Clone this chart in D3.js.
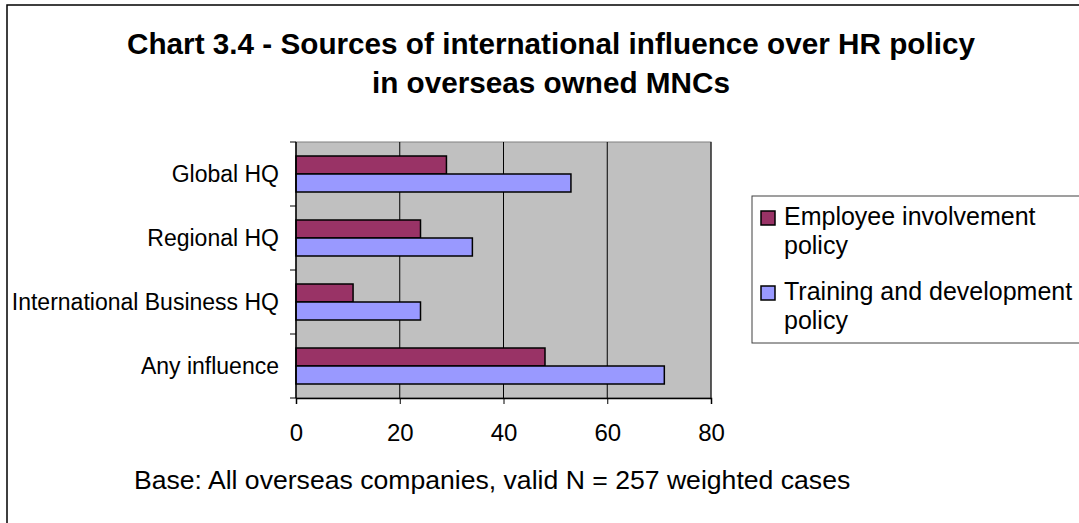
<!DOCTYPE html>
<html>
<head>
<meta charset="utf-8">
<script src="https://cdn.jsdelivr.net/npm/d3@7"></script>
<style>
  html, body { margin: 0; padding: 0; background: #fff; }
  svg { display: block; font-family: "Liberation Sans", Arial, sans-serif; }
</style>
</head>
<body>
<svg id="chart" width="1079" height="523"></svg>
<script>
const categories = ["Global HQ", "Regional HQ", "International Business HQ", "Any influence"];
const seriesNames = ["Employee involvement policy", "Training and development policy"];
const employeeInvolvement = [29, 24, 11, 48];
const trainingDevelopment = [53, 34, 24, 71];
const xTicks = [0, 20, 40, 60, 80];
const titleLines = ["Chart 3.4 - Sources of international influence over HR policy", "in overseas owned MNCs"];
const legendLines = [["Employee involvement", "policy"], ["Training and development", "policy"]];
const footnote = "Base: All overseas companies, valid N = 257 weighted cases";
const colors = ["#993366", "#9999FF"];

const svg = d3.select("#chart");

// outer chart border (extends beyond the visible frame on right/bottom)
svg.append("rect").attr("x", 7).attr("y", 5).attr("width", 1120).attr("height", 560)
  .attr("fill", "#fff").attr("stroke", "#000").attr("stroke-width", 1.5);

// title
svg.append("g").selectAll("text").data(titleLines).join("text")
  .attr("x", 551).attr("y", (d, i) => 54 + i * 39)
  .attr("text-anchor", "middle").attr("font-weight", "bold").attr("font-size", 29.7)
  .attr("fill", "#000").text(d => d);

const plot = {left: 296, right: 711, top: 142, bottom: 398};
const x = d3.scaleLinear().domain([0, 80]).range([plot.left, plot.right]);
const y = d3.scaleBand().domain(categories).range([plot.top, plot.bottom]);
const yInner = d3.scaleBand().domain(seriesNames).range([14, y.bandwidth() - 14]);

// plot background
svg.append("rect").attr("x", plot.left).attr("y", plot.top)
  .attr("width", plot.right - plot.left).attr("height", plot.bottom - plot.top)
  .attr("fill", "#C0C0C0").attr("stroke", "#808080").attr("stroke-width", 1);

// gridlines
svg.append("g").selectAll("line").data(xTicks.slice(1)).join("line")
  .attr("x1", d => x(d)).attr("x2", d => x(d))
  .attr("y1", plot.top).attr("y2", plot.bottom)
  .attr("stroke", "#000").attr("stroke-width", 1);

// bars
const data = categories.map((c, i) => ({cat: c, values: [employeeInvolvement[i], trainingDevelopment[i]]}));
const groups = svg.append("g").selectAll("g").data(data).join("g")
  .attr("transform", d => `translate(0,${y(d.cat)})`);
groups.selectAll("rect").data(d => d.values.map((v, j) => ({v, s: seriesNames[j], j}))).join("rect")
  .attr("x", x(0)).attr("y", d => yInner(d.s))
  .attr("width", d => x(d.v) - x(0)).attr("height", yInner.bandwidth())
  .attr("fill", d => colors[d.j]).attr("stroke", "#000").attr("stroke-width", 1.5);

// y axis
const yAxis = svg.append("g");
yAxis.append("line").attr("x1", plot.left).attr("x2", plot.left)
  .attr("y1", plot.top).attr("y2", plot.bottom).attr("stroke", "#000").attr("stroke-width", 1.5);
const yTickPos = categories.map(c => y(c)).concat([plot.bottom]);
yAxis.selectAll("line.tick").data(yTickPos).join("line").attr("class", "tick")
  .attr("x1", plot.left - 6).attr("x2", plot.left).attr("y1", d => d).attr("y2", d => d)
  .attr("stroke", "#000").attr("stroke-width", 1);
yAxis.selectAll("text").data(categories).join("text")
  .attr("x", 279).attr("y", d => y(d) + y.bandwidth() / 2)
  .attr("dy", "0.35em").attr("text-anchor", "end").attr("font-size", 23).attr("fill", "#000")
  .text(d => d);

// x axis
const xAxisG = svg.append("g").attr("transform", `translate(0,${plot.bottom})`)
  .call(d3.axisBottom(x).tickValues(xTicks).tickSize(6).tickPadding(20).tickFormat(d3.format("d")));
xAxisG.select(".domain").attr("stroke", "#000").attr("stroke-width", 1.5);
xAxisG.selectAll(".tick line").attr("stroke", "#000");
xAxisG.selectAll(".tick text").attr("font-size", 24).attr("font-family", "Liberation Sans, Arial, sans-serif").attr("fill", "#000");

// footnote
svg.append("text").attr("x", 134).attr("y", 489).attr("font-size", 26.6).attr("fill", "#000").text(footnote);

// legend
const legend = svg.append("g");
legend.append("rect").attr("x", 752).attr("y", 196).attr("width", 400).attr("height", 147)
  .attr("fill", "#fff").attr("stroke", "#404040").attr("stroke-width", 1);
const items = legend.selectAll("g.item").data(seriesNames).join("g").attr("class", "item")
  .attr("transform", (d, i) => `translate(0,${i * 75})`);
items.append("rect").attr("x", 761).attr("y", 211).attr("width", 14).attr("height", 14)
  .attr("fill", (d, i) => colors[i]).attr("stroke", "#000").attr("stroke-width", 1.5);
items.each(function(d, i) {
  d3.select(this).selectAll("text").data(legendLines[i]).join("text")
    .attr("x", 784).attr("y", (t, k) => 225 + k * 29)
    .attr("font-size", 25).attr("fill", "#000").text(t => t);
});
</script>
</body>
</html>
